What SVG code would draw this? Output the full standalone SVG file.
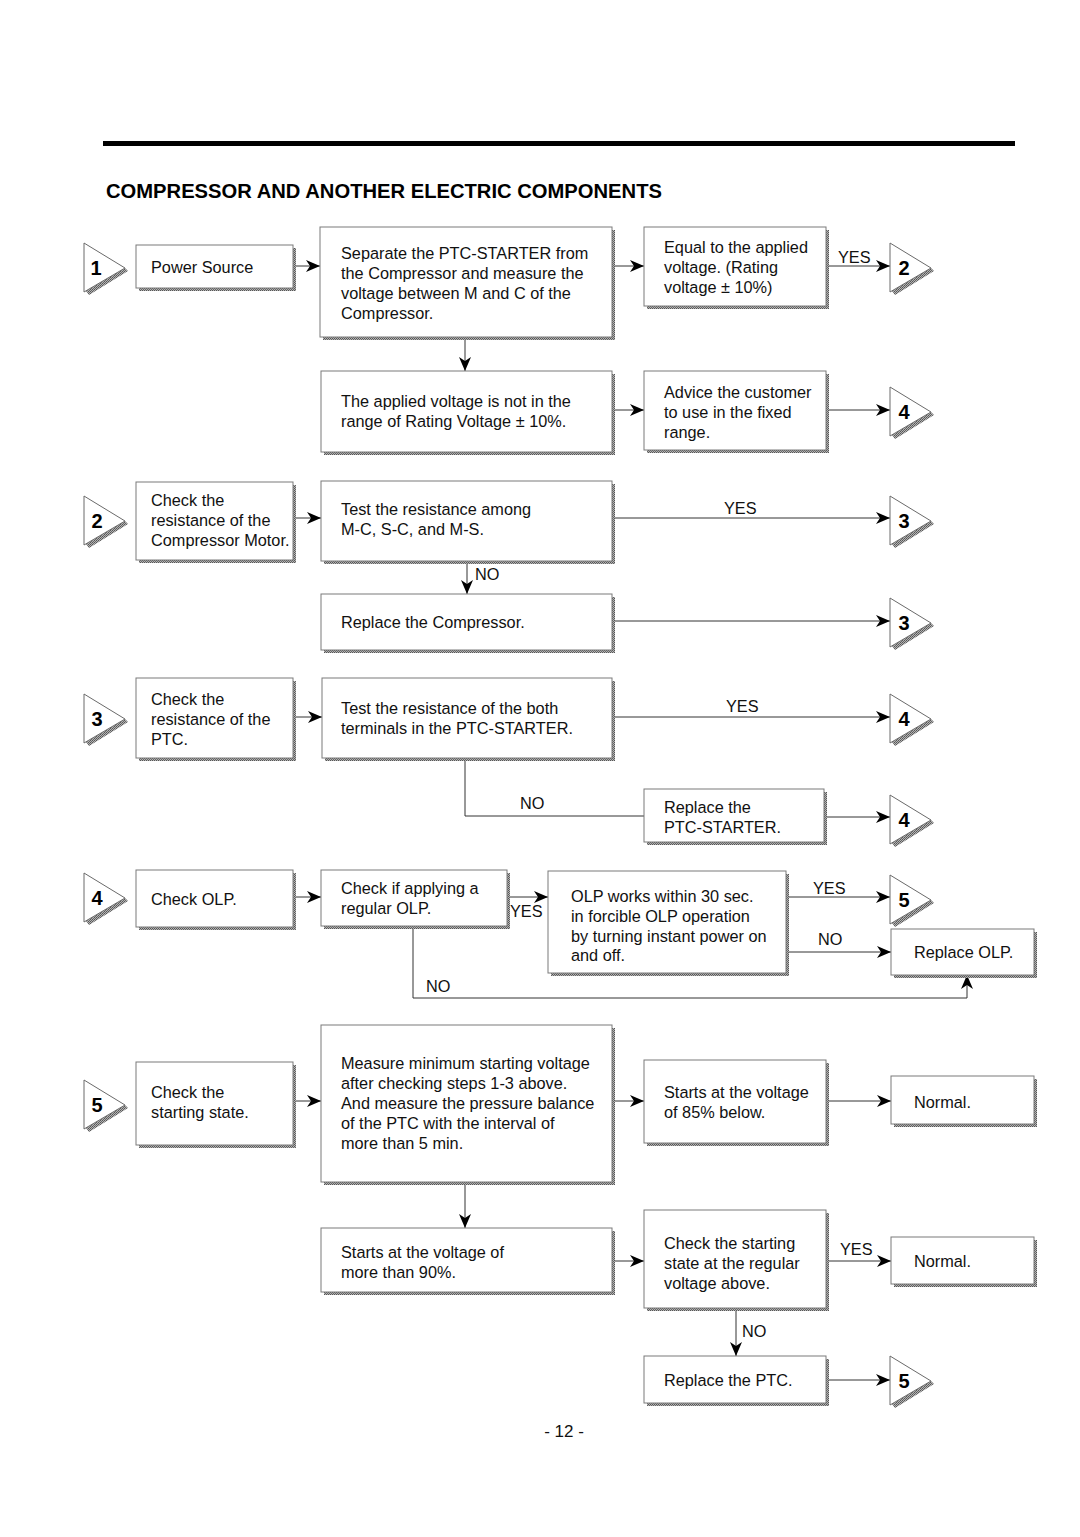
<svg xmlns="http://www.w3.org/2000/svg" width="1080" height="1537" viewBox="0 0 1080 1537">
<style>
.bx{fill:#fff;stroke:#7a7a7a;stroke-width:1}
.sh{fill:url(#dots)}
.t{font-family:"Liberation Sans",Arial,sans-serif;font-size:16.3px;fill:#111}
.n{font-family:"Liberation Sans",Arial,sans-serif;font-size:20px;font-weight:bold;fill:#000;text-anchor:middle}
.c{fill:none;stroke:#333;stroke-width:1}
.a{marker-end:url(#arr)}
.title{font-family:"Liberation Sans",Arial,sans-serif;font-size:20.2px;font-weight:bold;fill:#000}
</style>
<defs>
<pattern id="dots" width="2" height="2" patternUnits="userSpaceOnUse">
<rect width="2" height="2" fill="#b4b4b4"/>
<rect width="1" height="1" fill="#555"/>
<rect x="1" y="1" width="1" height="1" fill="#666"/>
</pattern>
<marker id="arr" markerUnits="userSpaceOnUse" markerWidth="15" markerHeight="12" refX="14" refY="6" orient="auto">
<path d="M0,0 L14,6 L0,12 L4,6 z" fill="#000"/>
</marker>
<g id="tri">
<polygon points="2,48 41,25 44,28 5,52" fill="url(#dots)"/>
<polygon points="0,0 41,25 0,49" fill="#fff" stroke="#6a6a6a" stroke-width="1"/>
</g>
</defs>
<rect width="1080" height="1537" fill="#fff"/>
<rect x="103" y="141" width="912" height="5" fill="#000"/>
<text class="title" x="106" y="198">COMPRESSOR AND ANOTHER ELECTRIC COMPONENTS</text>

<g id="connectors">
<line class="c a" x1="293" y1="266" x2="320" y2="266"/>
<line class="c a" x1="612" y1="266" x2="644" y2="266"/>
<line class="c a" x1="826" y1="266" x2="890" y2="266"/>
<text class="t" x="838" y="263">YES</text>
<line class="c a" x1="465" y1="337" x2="465" y2="371"/>
<line class="c a" x1="612" y1="410" x2="644" y2="410"/>
<line class="c a" x1="826" y1="410" x2="890" y2="410"/>
<line class="c a" x1="293" y1="518" x2="321" y2="518"/>
<line class="c a" x1="612" y1="518" x2="890" y2="518"/>
<text class="t" x="724" y="514">YES</text>
<line class="c a" x1="467" y1="561" x2="467" y2="594"/>
<text class="t" x="475" y="580">NO</text>
<line class="c a" x1="612" y1="621" x2="890" y2="621"/>
<line class="c a" x1="293" y1="717" x2="322" y2="717"/>
<line class="c a" x1="612" y1="717" x2="890" y2="717"/>
<text class="t" x="726" y="712">YES</text>
<polyline class="c" points="465,758 465,816 644,816"/>
<text class="t" x="520" y="809">NO</text>
<line class="c a" x1="824" y1="817" x2="890" y2="817"/>
<line class="c a" x1="293" y1="897" x2="321" y2="897"/>
<line class="c a" x1="507" y1="897" x2="548" y2="897"/>
<text class="t" x="510" y="917">YES</text>
<line class="c a" x1="786" y1="897" x2="890" y2="897"/>
<text class="t" x="813" y="894">YES</text>
<line class="c a" x1="786" y1="952" x2="891" y2="952"/>
<text class="t" x="818" y="945">NO</text>
<polyline class="c a" points="413,926 413,998 967,998 967,975"/>
<text class="t" x="426" y="992">NO</text>
<line class="c a" x1="293" y1="1101" x2="321" y2="1101"/>
<line class="c a" x1="612" y1="1101" x2="644" y2="1101"/>
<line class="c a" x1="826" y1="1101" x2="891" y2="1101"/>
<line class="c a" x1="465" y1="1182" x2="465" y2="1228"/>
<line class="c a" x1="612" y1="1261" x2="644" y2="1261"/>
<line class="c a" x1="826" y1="1261" x2="891" y2="1261"/>
<text class="t" x="840" y="1255">YES</text>
<line class="c a" x1="736" y1="1308" x2="736" y2="1356"/>
<text class="t" x="742" y="1337">NO</text>
<line class="c a" x1="826" y1="1380" x2="890" y2="1380"/>
</g>

<!-- Triangles -->
<g id="t1a"><use href="#tri" x="84" y="243"/><text class="n" x="96" y="275">1</text></g>
<g id="t2a"><use href="#tri" x="890" y="243"/><text class="n" x="904" y="275">2</text></g>
<g id="t4a"><use href="#tri" x="890" y="387"/><text class="n" x="904" y="419">4</text></g>
<g id="t2b"><use href="#tri" x="84" y="496"/><text class="n" x="97" y="528">2</text></g>
<g id="t3a"><use href="#tri" x="890" y="496"/><text class="n" x="904" y="528">3</text></g>
<g id="t3b"><use href="#tri" x="890" y="598"/><text class="n" x="904" y="630">3</text></g>
<g id="t3c"><use href="#tri" x="84" y="694"/><text class="n" x="97" y="726">3</text></g>
<g id="t4b"><use href="#tri" x="890" y="694"/><text class="n" x="904" y="726">4</text></g>
<g id="t4c"><use href="#tri" x="890" y="795"/><text class="n" x="904" y="827">4</text></g>
<g id="t4d"><use href="#tri" x="84" y="873"/><text class="n" x="97" y="905">4</text></g>
<g id="t5a"><use href="#tri" x="890" y="875"/><text class="n" x="904" y="907">5</text></g>
<g id="t5b"><use href="#tri" x="84" y="1080"/><text class="n" x="97" y="1112">5</text></g>
<g id="t5c"><use href="#tri" x="890" y="1356"/><text class="n" x="904" y="1388">5</text></g>

<!-- Boxes -->
<g id="power"><rect class="sh" x="139" y="248" width="157" height="43"/><rect class="bx" x="136" y="245" width="157" height="43"/><text class="t" x="151" y="273">Power Source</text></g>
<g id="separate"><rect class="sh" x="323" y="230" width="292" height="110"/><rect class="bx" x="320" y="227" width="292" height="110"/>
<text class="t" x="341" y="259">Separate the PTC-STARTER from</text>
<text class="t" x="341" y="279">the Compressor and measure the</text>
<text class="t" x="341" y="299">voltage between M and C of the</text>
<text class="t" x="341" y="319">Compressor.</text></g>
<g id="equal"><rect class="sh" x="647" y="230" width="182" height="79"/><rect class="bx" x="644" y="227" width="182" height="79"/>
<text class="t" x="664" y="253">Equal to the applied</text>
<text class="t" x="664" y="273">voltage. (Rating</text>
<text class="t" x="664" y="293">voltage ± 10%)</text></g>
<g id="notrange"><rect class="sh" x="324" y="374" width="291" height="81"/><rect class="bx" x="321" y="371" width="291" height="81"/>
<text class="t" x="341" y="407">The applied voltage is not in the</text>
<text class="t" x="341" y="427">range of Rating Voltage ± 10%.</text></g>
<g id="advice"><rect class="sh" x="647" y="374" width="182" height="79"/><rect class="bx" x="644" y="371" width="182" height="79"/>
<text class="t" x="664" y="398">Advice the customer</text>
<text class="t" x="664" y="418">to use in the fixed</text>
<text class="t" x="664" y="438">range.</text></g>
<g id="checkmotor"><rect class="sh" x="139" y="485" width="157" height="78"/><rect class="bx" x="136" y="482" width="157" height="78"/>
<text class="t" x="151" y="506">Check the</text>
<text class="t" x="151" y="526">resistance of the</text>
<text class="t" x="151" y="546">Compressor Motor.</text></g>
<g id="testmcs"><rect class="sh" x="324" y="484" width="291" height="80"/><rect class="bx" x="321" y="481" width="291" height="80"/>
<text class="t" x="341" y="515">Test the resistance among</text>
<text class="t" x="341" y="535">M-C, S-C, and M-S.</text></g>
<g id="replcomp"><rect class="sh" x="324" y="597" width="291" height="56"/><rect class="bx" x="321" y="594" width="291" height="56"/>
<text class="t" x="341" y="628">Replace the Compressor.</text></g>
<g id="checkptc"><rect class="sh" x="139" y="681" width="157" height="80"/><rect class="bx" x="136" y="678" width="157" height="80"/>
<text class="t" x="151" y="705">Check the</text>
<text class="t" x="151" y="725">resistance of the</text>
<text class="t" x="151" y="745">PTC.</text></g>
<g id="testptc"><rect class="sh" x="325" y="681" width="290" height="80"/><rect class="bx" x="322" y="678" width="290" height="80"/>
<text class="t" x="341" y="714">Test the resistance of the both</text>
<text class="t" x="341" y="734">terminals in the PTC-STARTER.</text></g>
<g id="replptcs"><rect class="sh" x="647" y="792" width="180" height="53"/><rect class="bx" x="644" y="789" width="180" height="53"/>
<text class="t" x="664" y="813">Replace the</text>
<text class="t" x="664" y="833">PTC-STARTER.</text></g>
<g id="checkolp"><rect class="sh" x="139" y="873" width="157" height="57"/><rect class="bx" x="136" y="870" width="157" height="57"/>
<text class="t" x="151" y="905">Check OLP.</text></g>
<g id="applyolp"><rect class="sh" x="324" y="873" width="186" height="56"/><rect class="bx" x="321" y="870" width="186" height="56"/>
<text class="t" x="341" y="894">Check if applying a</text>
<text class="t" x="341" y="914">regular OLP.</text></g>
<g id="olpworks"><rect class="sh" x="551" y="874" width="238" height="102"/><rect class="bx" x="548" y="871" width="238" height="102"/>
<text class="t" x="571" y="902">OLP works within 30 sec.</text>
<text class="t" x="571" y="922">in forcible OLP operation</text>
<text class="t" x="571" y="942">by turning instant power on</text>
<text class="t" x="571" y="961">and off.</text></g>
<g id="replolp"><rect class="sh" x="894" y="932" width="143" height="46"/><rect class="bx" x="891" y="929" width="143" height="46"/>
<text class="t" x="914" y="958">Replace OLP.</text></g>
<g id="checkstart"><rect class="sh" x="139" y="1065" width="157" height="83"/><rect class="bx" x="136" y="1062" width="157" height="83"/>
<text class="t" x="151" y="1098">Check the</text>
<text class="t" x="151" y="1118">starting state.</text></g>
<g id="measure"><rect class="sh" x="324" y="1028" width="291" height="157"/><rect class="bx" x="321" y="1025" width="291" height="157"/>
<text class="t" x="341" y="1069">Measure minimum starting voltage</text>
<text class="t" x="341" y="1089">after checking steps 1-3 above.</text>
<text class="t" x="341" y="1109">And measure the pressure balance</text>
<text class="t" x="341" y="1129">of the PTC with the interval of</text>
<text class="t" x="341" y="1149">more than 5 min.</text></g>
<g id="starts85"><rect class="sh" x="647" y="1063" width="182" height="83"/><rect class="bx" x="644" y="1060" width="182" height="83"/>
<text class="t" x="664" y="1098">Starts at the voltage</text>
<text class="t" x="664" y="1118">of 85% below.</text></g>
<g id="normal1"><rect class="sh" x="894" y="1079" width="143" height="48"/><rect class="bx" x="891" y="1076" width="143" height="48"/>
<text class="t" x="914" y="1108">Normal.</text></g>
<g id="starts90"><rect class="sh" x="324" y="1231" width="291" height="64"/><rect class="bx" x="321" y="1228" width="291" height="64"/>
<text class="t" x="341" y="1258">Starts at the voltage of</text>
<text class="t" x="341" y="1278">more than 90%.</text></g>
<g id="checkregular"><rect class="sh" x="647" y="1213" width="182" height="98"/><rect class="bx" x="644" y="1210" width="182" height="98"/>
<text class="t" x="664" y="1249">Check the starting</text>
<text class="t" x="664" y="1269">state at the regular</text>
<text class="t" x="664" y="1289">voltage above.</text></g>
<g id="normal2"><rect class="sh" x="894" y="1240" width="143" height="47"/><rect class="bx" x="891" y="1237" width="143" height="47"/>
<text class="t" x="914" y="1267">Normal.</text></g>
<g id="replptc"><rect class="sh" x="647" y="1359" width="182" height="47"/><rect class="bx" x="644" y="1356" width="182" height="47"/>
<text class="t" x="664" y="1386">Replace the PTC.</text></g>

<text class="t" x="564" y="1437" style="text-anchor:middle;font-size:17px">- 12 -</text>
</svg>
